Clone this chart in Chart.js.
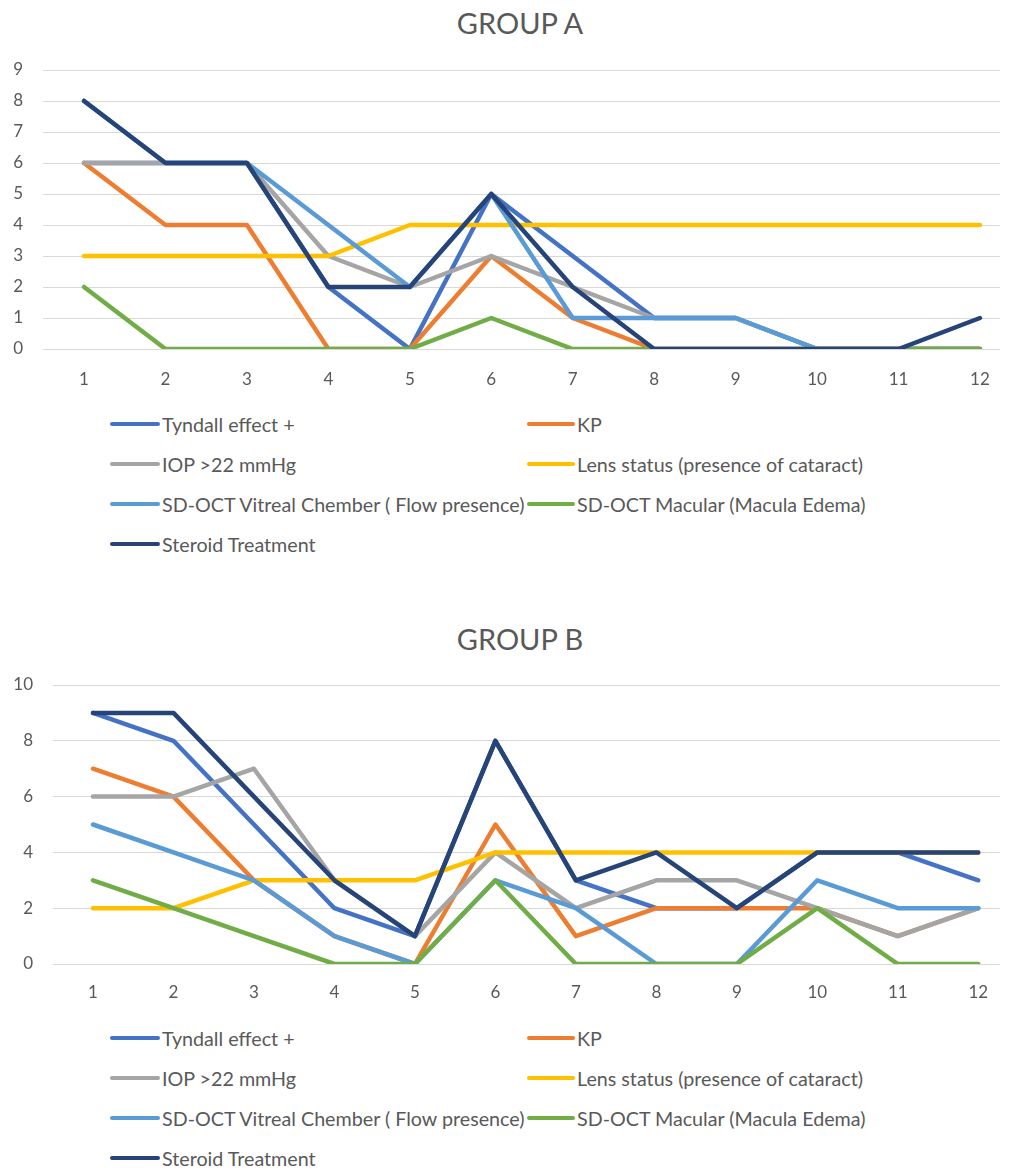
<!DOCTYPE html>
<html>
<head>
<meta charset="utf-8">
<script src="https://cdn.jsdelivr.net/npm/chart.js@4.4.1/dist/chart.umd.min.js"></script>
<style>
  html, body { margin: 0; padding: 0; background: #ffffff; }
  #page { position: relative; width: 1011px; height: 1171px; overflow: hidden; }
  .chartBox { position: absolute; left: 0; width: 1011px; }
  .title { position: absolute; left: 520px; transform: translate(-50%, -50%); white-space: nowrap;
           font-family: Lato, "Liberation Sans", sans-serif; font-size: 29px; color: #595959; }
  .legend { position: absolute; left: 0; width: 1011px; height: 160px; }
  .item { position: absolute; height: 24px; display: flex; align-items: center; white-space: nowrap;
          font-family: Lato, "Liberation Sans", sans-serif; font-size: 19.7px; color: #595959; }
  .swatch { display: inline-block; height: 4.5px; border-radius: 3px; margin-right: 2px; }
</style>
</head>
<body>
<div id="page">
  <div class="title" style="top:22px;">GROUP A</div>
  <div class="chartBox" style="top:0px;height:390px;"><canvas id="chartA" width="1011" height="390"></canvas></div>
  <div class="legend" id="legendA" style="top:412px;"></div>
  <div class="title" style="top:638px;">GROUP B</div>
  <div class="chartBox" style="top:617px;height:386px;"><canvas id="chartB" width="1011" height="386"></canvas></div>
  <div class="legend" id="legendB" style="top:1026px;"></div>
</div>
<script>
// Visit numbers on the x axis
const categories = [1, 2, 3, 4, 5, 6, 7, 8, 9, 10, 11, 12];

// Series names and colours (shared by both groups)
const seriesNames = [
  "Tyndall effect +",
  "KP",
  "IOP >22 mmHg",
  "Lens status (presence of cataract)",
  "SD-OCT Vitreal Chember ( Flow presence)",
  "SD-OCT Macular (Macula Edema)",
  "Steroid Treatment"
];
const seriesColors = ["#4472C4", "#ED7D31", "#A5A5A5", "#FFC000", "#5B9BD5", "#70AD47", "#264478"];

// Group A counts
const tyndallA  = [6, 6, 6, 2, 0, 5, 3, 1, 1, 0, 0, 0];
const kpA       = [6, 4, 4, 0, 0, 3, 1, 0, 0, 0, 0, 0];
const iopA      = [6, 6, 6, 3, 2, 3, 2, 1, 1, 0, 0, 0];
const lensA     = [3, 3, 3, 3, 4, 4, 4, 4, 4, 4, 4, 4];
const vitrealA  = [8, 6, 6, 4, 2, 5, 1, 1, 1, 0, 0, 0];
const macularA  = [2, 0, 0, 0, 0, 1, 0, 0, 0, 0, 0, 0];
const steroidA  = [8, 6, 6, 2, 2, 5, 2, 0, 0, 0, 0, 1];

// Group B counts
const tyndallB  = [9, 8, 5, 2, 1, 8, 3, 2, 2, 4, 4, 3];
const kpB       = [7, 6, 3, 1, 0, 5, 1, 2, 2, 2, 1, 2];
const iopB      = [6, 6, 7, 3, 1, 4, 2, 3, 3, 2, 1, 2];
const lensB     = [2, 2, 3, 3, 3, 4, 4, 4, 4, 4, 4, 4];
const vitrealB  = [5, 4, 3, 1, 0, 3, 2, 0, 0, 3, 2, 2];
const macularB  = [3, 2, 1, 0, 0, 3, 0, 0, 0, 2, 0, 0];
const steroidB  = [9, 9, 6, 3, 1, 8, 3, 4, 2, 4, 4, 4];

// Y axis tick values
const yTicksA = [0, 1, 2, 3, 4, 5, 6, 7, 8, 9];
const yTicksB = [0, 2, 4, 6, 8, 10];

const TEXT = "#595959";
const GRID = "#d9d9d9";
const FONT = "Lato, 'Liberation Sans', sans-serif";

function buildDatasets(seriesList) {
  const n = seriesList.length;
  return seriesList.map((values, i) => ({
    label: seriesNames[i],
    data: values,
    borderColor: seriesColors[i],
    backgroundColor: seriesColors[i],
    borderWidth: 4.5,
    pointRadius: 0,
    pointHoverRadius: 0,
    tension: 0,
    fill: false,
    borderJoinStyle: "round",
    borderCapStyle: "round",
    order: n - 1 - i   // later series are painted on top
  }));
}

function makeChart(canvasId, seriesList, yTicks, opts) {
  const yMax = yTicks[yTicks.length - 1];
  return new Chart(document.getElementById(canvasId), {
    type: "line",
    data: { labels: categories, datasets: buildDatasets(seriesList) },
    options: {
      responsive: false,
      animation: false,
      events: [],
      layout: { padding: { left: 0, right: 11, top: opts.top, bottom: 0 } },
      plugins: {
        legend: { display: false },
        tooltip: { enabled: false },
        title: { display: false }
      },
      scales: {
        x: {
          type: "linear",
          min: opts.xMin,
          max: opts.xMax,
          grid: { display: false, drawTicks: false },
          border: { display: false },
          afterBuildTicks: (scale) => { scale.ticks = categories.map(v => ({ value: v })); },
          afterFit: (scale) => { scale.height = opts.xAxisH; },
          ticks: {
            color: TEXT,
            font: { family: FONT, size: 17 },
            padding: opts.xPad,
            maxRotation: 0,
            autoSkip: false,
            callback: (v) => String(v)
          }
        },
        y: {
          min: 0,
          max: yMax,
          grid: { color: GRID, lineWidth: 1, drawTicks: false },
          border: { display: false },
          afterBuildTicks: (scale) => { scale.ticks = yTicks.map(v => ({ value: v })); },
          afterFit: (scale) => { scale.width = opts.yAxisW; },
          ticks: {
            color: TEXT,
            font: { family: FONT, size: 17 },
            padding: 20
          }
        }
      }
    }
  });
}

makeChart("chartA", [tyndallA, kpA, iopA, lensA, vitrealA, macularA, steroidA], yTicksA,
  { top: 70, xAxisH: 41, yAxisW: 43, xMin: 0.496, xMax: 12.246, xPad: 20 });

makeChart("chartB", [tyndallB, kpB, iopB, lensB, vitrealB, macularB, steroidB], yTicksB,
  { top: 68, xAxisH: 39, yAxisW: 53, xMin: 0.503, xMax: 12.27, xPad: 18 });

// Two-column legend under each chart
function buildLegend(containerId) {
  const box = document.getElementById(containerId);
  const colX = [110, 527];
  const swW = [50, 48];
  seriesNames.forEach((name, i) => {
    const col = i % 2, row = Math.floor(i / 2);
    const item = document.createElement("div");
    item.className = "item";
    item.style.left = colX[col] + "px";
    item.style.top = (row * 40) + "px";
    const sw = document.createElement("span");
    sw.className = "swatch";
    sw.style.width = swW[col] + "px";
    sw.style.background = seriesColors[i];
    const label = document.createElement("span");
    label.textContent = name;
    item.appendChild(sw);
    item.appendChild(label);
    box.appendChild(item);
  });
}
buildLegend("legendA");
buildLegend("legendB");
</script>
</body>
</html>
